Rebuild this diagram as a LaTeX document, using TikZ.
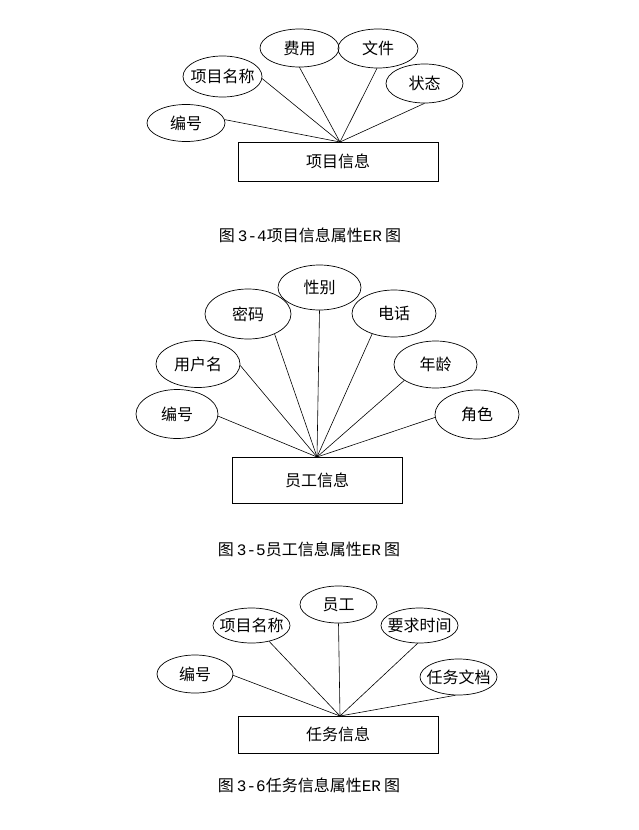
\documentclass[tikz,border=0pt]{standalone}
\usepackage{fontspec}
\newfontfamily\cjk{Noto Sans CJK SC}
\setmainfont{Liberation Mono}
\usetikzlibrary{shapes.geometric}
\tikzset{
  attr/.style={ellipse,draw,line width=0.7pt,inner sep=0pt,font=\cjk\fontsize{16}{19}\selectfont},
  ent/.style={rectangle,draw,line width=0.8pt,inner sep=0pt,font=\cjk\fontsize{16}{19}\selectfont},
  link/.style={line width=0.6pt},
  figcap/.style={inner sep=0pt,font=\fontsize{16}{19}\selectfont}
}
\newcommand{\capgap}{\hspace{3pt}}
\newcommand{\lbl}[1]{\makebox[0pt][c]{#1}}
\begin{document}
\begin{tikzpicture}[x=1pt,y=-1pt]
\useasboundingbox[fill=white] (0,0) rectangle (639,830);
% ---------- Figure 3-4
\node[ent,minimum width=200pt,minimum height=39pt] (e1) at (338,161.5) {项目信息};
\node[attr,minimum width=78pt,minimum height=37pt] (a1) at (186,123) {\lbl{编号}};
\node[attr,minimum width=79pt,minimum height=41pt] (a2) at (222.5,76.5) {\lbl{项目名称}};
\node[attr,minimum width=79pt,minimum height=38pt] (a3) at (299.5,48) {\lbl{费用}};
\node[attr,minimum width=80pt,minimum height=39pt] (a4) at (378,48.5) {\lbl{文件}};
\node[attr,minimum width=77pt,minimum height=39pt] (a5) at (424.5,83.5) {\lbl{状态}};
\coordinate (h1) at (340,142);
\draw[link] (h1) -- (a1.5);
\draw[link] (h1) -- (a2.-3);
\draw[link] (h1) -- (a3.south);
\draw[link] (h1) -- (a4.-93);
\draw[link] (h1) -- (a5.south);
\node[figcap] (c1) at (310,235) {{\cjk 图}\capgap 3-4{\cjk 项目信息属性}ER\capgap{\cjk 图}};
% ---------- Figure 3-5
\node[ent,minimum width=170pt,minimum height=46pt] (e2) at (317,480) {员工信息};
\node[attr,minimum width=82pt,minimum height=49pt] (b1) at (177,414) {\lbl{编号}};
\node[attr,minimum width=84pt,minimum height=47pt] (b2) at (198,364) {\lbl{用户名}};
\node[attr,minimum width=86pt,minimum height=50pt] (b3) at (248,314) {\lbl{密码}};
\node[attr,minimum width=83pt,minimum height=45pt] (b4) at (319.5,287.5) {\lbl{性别}};
\node[attr,minimum width=84pt,minimum height=47pt] (b5) at (394,313.5) {\lbl{电话}};
\node[attr,minimum width=83pt,minimum height=47pt] (b6) at (435.5,364.5) {\lbl{年龄}};
\node[attr,minimum width=84pt,minimum height=49pt] (b7) at (477,414.5) {\lbl{角色}};
\coordinate (h2) at (317,457);
\draw[link] (h2) -- (b1.-3);
\draw[link] (h2) -- (b2.-2);
\draw[link] (h2) -- (b3.-37);
\draw[link] (h2) -- (b4.south);
\draw[link] (h2) -- (b5.-137);
\draw[link] (h2) -- (b6.-153);
\draw[link] (h2) -- (b7.-176);
\node[figcap] (c2) at (309,549) {{\cjk 图}\capgap 3-5{\cjk 员工信息属性}ER\capgap{\cjk 图}};
% ---------- Figure 3-6
\node[ent,minimum width=200pt,minimum height=37pt] (e3) at (338,734.5) {任务信息};
\node[attr,minimum width=76pt,minimum height=38pt] (d1) at (195,674) {\lbl{编号}};
\node[attr,minimum width=77pt,minimum height=35pt] (d2) at (251.5,625.5) {\lbl{项目名称}};
\node[attr,minimum width=77pt,minimum height=37pt] (d3) at (338.5,604.5) {\lbl{员工}};
\node[attr,minimum width=77pt,minimum height=35pt] (d4) at (419.5,625.5) {\lbl{要求时间}};
\node[attr,minimum width=77pt,minimum height=36pt] (d5) at (458.5,677) {\lbl{任务文档}};
\coordinate (h3) at (340,716);
\draw[link] (h3) -- (d1.-2);
\draw[link] (h3) -- (d2.-42);
\draw[link] (h3) -- (d3.south);
\draw[link] (h3) -- (d4.-96);
\draw[link] (h3) -- (d5.-100);
\node[figcap] (c3) at (309,785) {{\cjk 图}\capgap 3-6{\cjk 任务信息属性}ER\capgap{\cjk 图}};
\end{tikzpicture}
\end{document}
